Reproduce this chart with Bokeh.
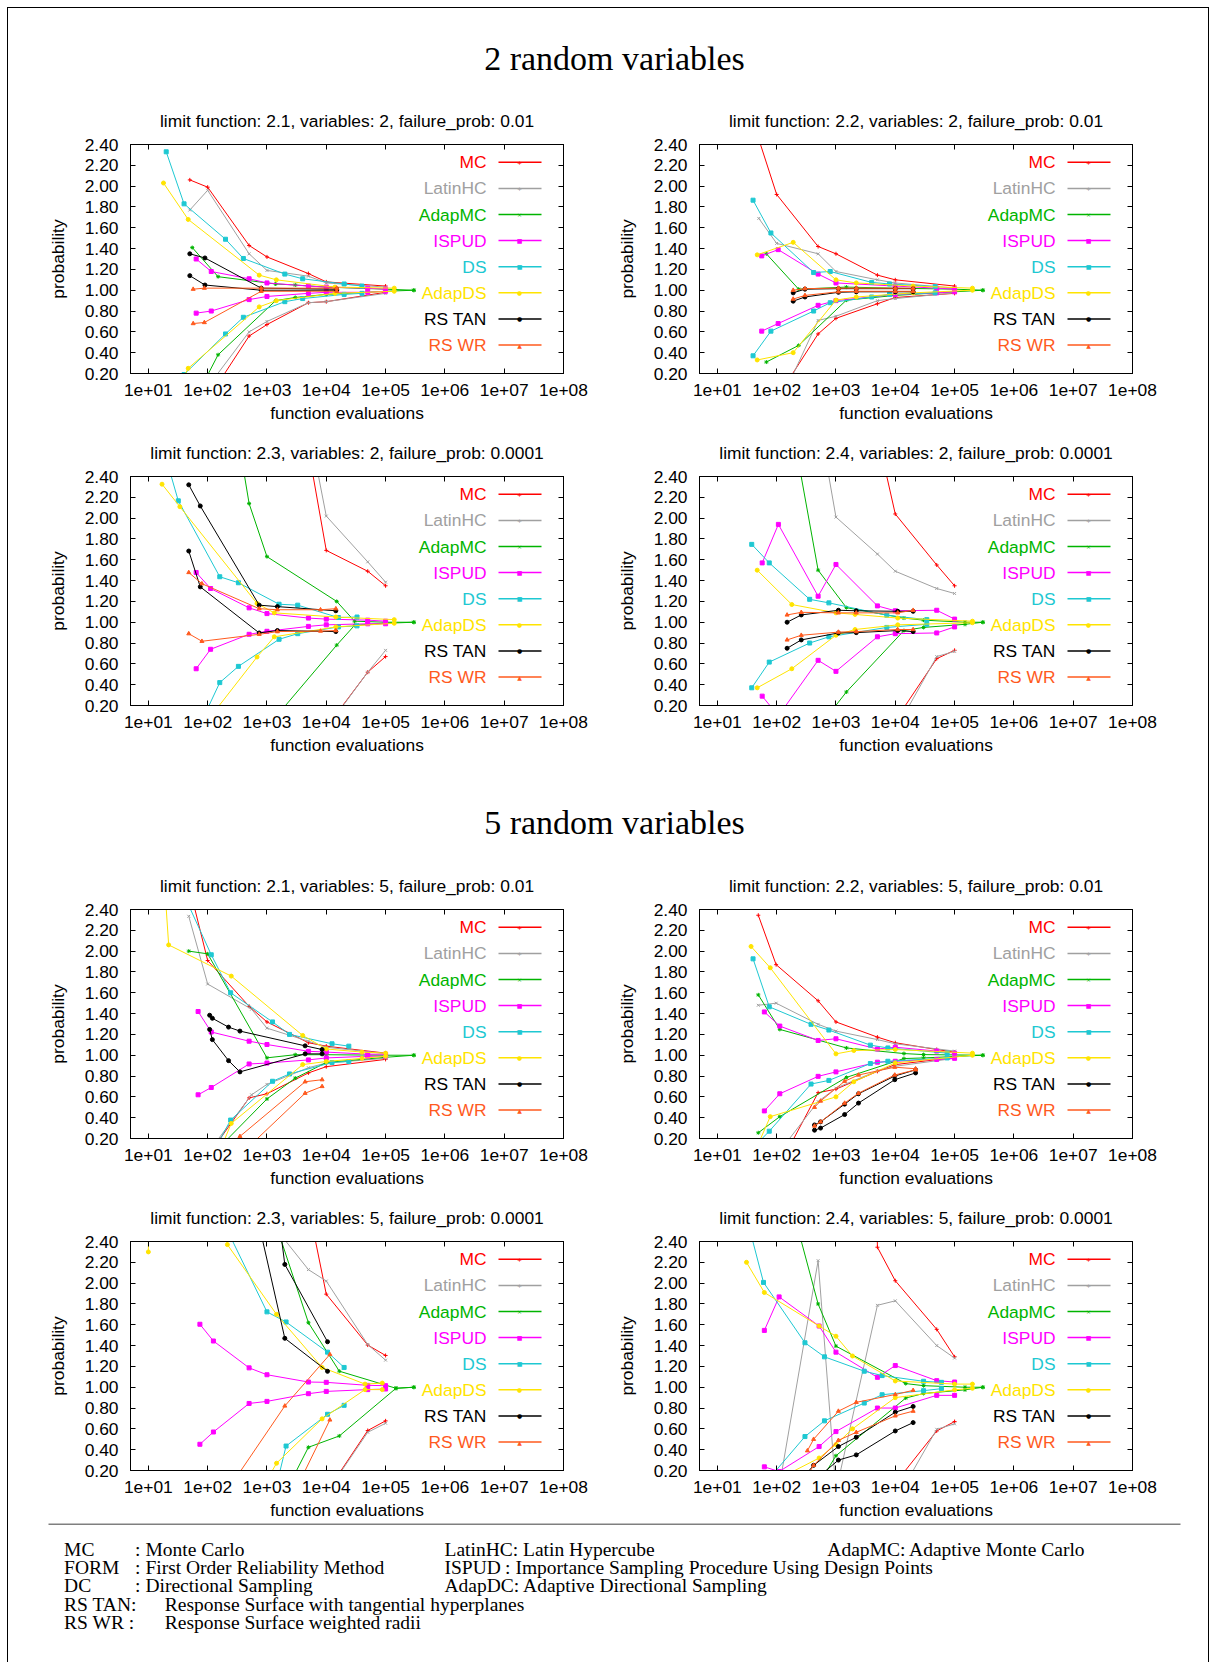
from bokeh.plotting import figure
from bokeh.models import Range1d, FixedTicker, LinearAxis, LogAxis, Label, Arrow, NumeralTickFormatter
from bokeh.layouts import column, row
from bokeh.embed import file_html
from bokeh.resources import INLINE
from bokeh.core.properties import value

# ---------------- data ----------------
METHODS = ["MC", "LatinHC", "AdapMC", "ISPUD", "DS", "AdapDS", "RS TAN", "RS WR"]
COLORS = ["#ff0000", "#a0a0a0", "#00b400", "#ff00ff", "#1ec8d2", "#ffe400", "#000000", "#ff5a1e"]
MARKERS = ["cross", "x", "asterisk", "square", "square", "circle", "circle", "triangle"]
LEGEND_MARKS = ["+", "+", "\u00d7", "\u25a0", "\u25a0", "\u25cf", "\u25cf", "\u25b2"]

X_TICKS = [1e1, 1e2, 1e3, 1e4, 1e5, 1e6, 1e7, 1e8]
X_TICK_LABELS = ["1e+01", "1e+02", "1e+03", "1e+04", "1e+05", "1e+06", "1e+07", "1e+08"]
Y_TICKS = [0.2, 0.4, 0.6, 0.8, 1.0, 1.2, 1.4, 1.6, 1.8, 2.0, 2.2, 2.4]

# each method: (function evaluations, upper curve, lower curve)
LF21_V2 = {
    "MC": ([50, 100, 500, 1000, 5000, 1e4, 1e5], [2.06, 1.99, 1.43, 1.32, 1.16, 1.08, 1.04], [-0.3, -0.05, 0.56, 0.67, 0.88, 0.89, 0.98]),
    "LatinHC": ([50, 100, 500, 1000, 5000, 1e4, 1e5], [1.77, 1.96, 1.35, 1.19, 1.135, 1.07, 1.03], [-0.3, 0.07, 0.60, 0.70, 0.88, 0.89, 0.97]),
    "AdapMC": ([55, 150, 1400, 3000, 1e4, 1e5, 3e5], [1.41, 1.13, 1.06, 1.05, 1.03, 1.01, 1.0], [-0.1, 0.38, 0.90, 0.93, 0.96, 0.99, 1.0]),
    "ISPUD": ([64, 115, 500, 1000, 5000, 1e4, 5e4, 1e5], [1.30, 1.18, 1.11, 1.07, 1.04, 1.03, 1.02, 1.01], [0.78, 0.80, 0.91, 0.94, 0.97, 0.98, 0.98, 0.99]),
    "DS": ([20, 40, 200, 400, 2000, 4000, 2e4, 4e4], [2.33, 1.83, 1.49, 1.305, 1.155, 1.11, 1.06, 1.04], [-0.3, 0.19, 0.58, 0.74, 0.89, 0.92, 0.96, 0.97]),
    "AdapDS": ([18, 47, 740, 1440, 1.4e4, 1.4e5], [2.03, 1.68, 1.145, 1.10, 1.03, 1.02], [-0.2, 0.25, 0.84, 0.90, 0.97, 0.99]),
    "RS TAN": ([50, 90, 800, 1.5e4], [1.35, 1.31, 1.02, 1.01], [1.14, 1.05, 1.0, 1.0]),
    "RS WR": ([57, 88, 800, 1.5e4], [1.01, 1.02, 1.02, 1.02], [0.68, 0.69, 0.99, 0.99]),
}
LF22_V2 = {
    "MC": ([50, 100, 500, 1000, 5000, 1e4, 1e5], [2.45, 1.92, 1.42, 1.35, 1.145, 1.10, 1.04], [-0.5, -0.04, 0.58, 0.73, 0.87, 0.93, 0.97]),
    "LatinHC": ([50, 100, 500, 1000, 5000, 1e4, 1e5], [1.69, 1.45, 1.35, 1.18, 1.10, 1.07, 1.02], [-0.6, -0.15, 0.71, 0.75, 0.90, 0.92, 0.975]),
    "AdapMC": ([67, 235, 1500, 1e4, 1e5, 3e5], [1.35, 1.01, 1.03, 1.02, 1.01, 1.0], [0.31, 0.47, 0.905, 0.95, 0.985, 1.0]),
    "ISPUD": ([56, 106, 500, 1000, 1e4, 5e4, 1e5], [1.33, 1.39, 1.155, 1.07, 1.04, 1.02, 1.01], [0.607, 0.68, 0.855, 0.90, 0.96, 0.975, 0.985]),
    "DS": ([40, 80, 420, 800, 4000, 8000, 4.7e4], [1.865, 1.55, 1.17, 1.18, 1.075, 1.06, 1.035], [0.37, 0.607, 0.80, 0.88, 0.935, 0.96, 0.975]),
    "AdapDS": ([47, 190, 1000, 2200, 2e4, 2e5], [1.34, 1.46, 1.10, 1.07, 1.04, 1.02], [0.33, 0.40, 0.905, 0.935, 0.975, 1.0]),
    "RS TAN": ([190, 300, 1100, 2200, 1e4, 2e4], [0.975, 1.01, 1.015, 1.015, 1.015, 1.015], [0.895, 0.935, 0.98, 0.985, 0.985, 0.985]),
    "RS WR": ([190, 300, 1100, 2200, 1e4, 2e4], [1.0, 1.015, 1.02, 1.02, 1.02, 1.02], [0.915, 0.95, 0.985, 0.99, 0.99, 0.99]),
}
LF23_V2 = {
    "MC": ([5000, 1e4, 5e4, 1e5], [2.66, 1.69, 1.49, 1.35], [-0.5, -0.01, 0.52, 0.67]),
    "LatinHC": ([5000, 1e4, 5e4, 1e5], [2.9, 2.02, 1.58, 1.385], [-0.6, -0.02, 0.52, 0.73]),
    "AdapMC": ([300, 500, 1000, 1.5e4, 3e4, 1e5, 3e5], [2.9, 2.14, 1.63, 1.2, 1.01, 1.0, 1.0], [-1.0, -0.5, -0.01, 0.78, 0.97, 0.99, 1.0]),
    "ISPUD": ([64, 112, 500, 1000, 5000, 1e4, 5e4, 1e5], [1.478, 1.324, 1.138, 1.083, 1.04, 1.03, 1.02, 1.01], [0.553, 0.74, 0.884, 0.913, 0.96, 0.975, 0.985, 0.985]),
    "DS": ([20, 32, 160, 330, 1600, 3300, 1.6e4, 3.3e4], [2.57, 2.166, 1.437, 1.379, 1.173, 1.164, 1.045, 1.05], [-1.0, -0.43, 0.42, 0.576, 0.836, 0.89, 0.955, 0.965]),
    "AdapDS": ([17, 34, 680, 1330, 1.45e4, 1.4e5], [2.326, 2.11, 1.18, 1.09, 1.05, 1.025], [-1.5, -0.285, 0.666, 0.86, 0.955, 0.99]),
    "RS TAN": ([48, 75, 740, 1500, 1.45e4], [2.32, 2.117, 1.164, 1.15, 1.11], [1.684, 1.34, 0.897, 0.92, 0.91]),
    "RS WR": ([48, 80, 740, 1500, 8000, 1.45e4], [1.478, 1.37, 1.13, 1.12, 1.12, 1.13], [0.89, 0.817, 0.884, 0.91, 0.915, 0.92]),
}
LF24_V2 = {
    "MC": ([5000, 1e4, 5e4, 1e5], [2.8, 2.04, 1.55, 1.35], [-0.3, 0.055, 0.65, 0.73]),
    "LatinHC": ([500, 1000, 5000, 1e4, 5e4, 1e5], [2.99, 2.01, 1.655, 1.49, 1.324, 1.276], [-1.0, -0.5, -0.3, -0.04, 0.67, 0.72]),
    "AdapMC": ([250, 500, 1500, 1.4e4, 3e4, 1.5e5, 3e5], [2.45, 1.50, 1.14, 1.04, 1.02, 1.0, 1.0], [-1.0, -0.017, 0.33, 0.92, 0.95, 0.98, 1.0]),
    "ISPUD": ([57, 107, 500, 1000, 5000, 1e4, 5e4, 1e5], [1.57, 1.94, 1.25, 1.555, 1.157, 1.11, 1.115, 1.03], [0.29, 0.10, 0.634, 0.528, 0.86, 0.89, 0.897, 0.955]),
    "DS": ([38, 75, 360, 760, 7200, 3.4e4], [1.748, 1.57, 1.22, 1.186, 1.067, 1.025], [0.37, 0.617, 0.80, 0.86, 0.95, 0.98]),
    "AdapDS": ([47, 180, 1000, 2100, 1.1e4, 2e5], [1.50, 1.17, 1.09, 1.075, 1.04, 1.01], [0.37, 0.553, 0.875, 0.93, 0.975, 0.995]),
    "RS TAN": ([150, 260, 1100, 2200, 1.1e4, 2e4], [1.0, 1.07, 1.115, 1.11, 1.105, 1.105], [0.75, 0.83, 0.897, 0.90, 0.92, 0.91]),
    "RS WR": ([150, 260, 1100, 2200, 1.1e4, 2e4], [1.07, 1.095, 1.09, 1.09, 1.09, 1.115], [0.83, 0.875, 0.905, 0.91, 0.93, 0.93]),
}
LF21_V5 = {
    "MC": ([50, 100, 500, 1000, 5000, 1e4, 1e5], [2.6, 1.91, 1.47, 1.32, 1.12, 1.087, 1.02], [-0.3, 0.03, 0.59, 0.63, 0.83, 0.89, 0.96]),
    "LatinHC": ([48, 100, 550, 1000, 5000, 1e4, 1e5], [2.335, 1.684, 1.442, 1.26, 1.135, 1.077, 1.016], [-0.3, 0.06, 0.62, 0.72, 0.88, 0.925, 0.97]),
    "AdapMC": ([48, 100, 1000, 3000, 1e4, 1e5, 3e5], [2.0, 1.974, 0.975, 1.005, 1.005, 1.0, 1.0], [-0.5, 0.0, 0.58, 0.78, 0.93, 0.98, 1.0]),
    "ISPUD": ([69, 115, 500, 1000, 5000, 1e4, 5e4, 1e5], [1.42, 1.223, 1.135, 1.103, 1.038, 1.03, 1.01, 1.01], [0.62, 0.69, 0.916, 0.925, 0.955, 0.974, 0.99, 0.99]),
    "DS": ([47, 115, 244, 1240, 2400, 1.25e4, 2.4e4], [2.45, 1.965, 1.60, 1.32, 1.20, 1.11, 1.087], [-0.5, 0.036, 0.377, 0.75, 0.82, 0.93, 0.94]),
    "AdapDS": ([18, 22, 250, 4000, 1e4, 4e4, 1e5], [2.8, 2.06, 1.76, 1.19, 1.06, 1.03, 1.02], [-1.5, -1.1, 0.345, 0.91, 0.94, 0.97, 0.99]),
    "RS TAN": ([108, 120, 225, 350, 4400, 8500], [1.384, 1.355, 1.27, 1.232, 1.09, 1.055], [1.248, 1.15, 0.948, 0.84, 1.013, 1.013]),
    "RS WR": ([350, 4400, 8500], [0.22, 0.745, 0.765], [0.04, 0.635, 0.70]),
}
LF22_V5 = {
    "MC": ([49, 98, 500, 1000, 5000, 1e4, 5e4, 1e5], [2.345, 1.87, 1.523, 1.32, 1.174, 1.12, 1.055, 1.03], [-0.6, -0.12, 0.64, 0.674, 0.845, 0.91, 0.958, 0.974]),
    "LatinHC": ([49, 98, 500, 1000, 5000, 1e4, 1e5], [1.48, 1.50, 1.297, 1.232, 1.15, 1.11, 1.04], [-0.6, 0.033, 0.555, 0.684, 0.85, 0.894, 0.97]),
    "AdapMC": ([49, 113, 1500, 1.4e4, 3e4, 3e5], [1.58, 1.248, 1.07, 1.016, 1.006, 1.0], [0.255, 0.41, 0.787, 0.968, 0.974, 1.0]),
    "ISPUD": ([62, 113, 500, 1000, 5000, 1e4, 5e4, 1e5], [1.416, 1.28, 1.142, 1.158, 1.06, 1.077, 1.04, 1.02], [0.465, 0.63, 0.797, 0.84, 0.933, 0.942, 0.96, 0.97]),
    "DS": ([40, 75, 380, 760, 3800, 7500, 7.5e4], [1.926, 1.465, 1.297, 1.242, 1.097, 1.07, 1.02], [0.11, 0.27, 0.723, 0.758, 0.92, 0.942, 0.974]),
    "AdapDS": ([37, 78, 1000, 2000, 1e4, 2e5], [2.045, 1.84, 1.013, 1.045, 1.055, 1.02], [-0.01, 0.41, 0.60, 0.745, 0.926, 1.0]),
    "RS TAN": ([435, 550, 1400, 2400, 9800, 2.2e4], [0.33, 0.36, 0.53, 0.63, 0.80, 0.86], [0.28, 0.30, 0.43, 0.54, 0.765, 0.83]),
    "RS WR": ([435, 550, 1400, 2400, 9800, 2.2e4], [0.50, 0.56, 0.75, 0.81, 0.885, 0.87], [0.32, 0.36, 0.54, 0.635, 0.81, 0.86]),
}
LF23_V5 = {
    "MC": ([5000, 1e4, 5e4, 1e5], [2.74, 1.894, 1.405, 1.305], [-0.5, -0.013, 0.584, 0.677]),
    "LatinHC": ([1000, 5000, 1e4, 5e4, 1e5], [2.63, 2.13, 2.02, 1.41, 1.26], [-1.0, -0.6, -0.02, 0.567, 0.654]),
    "AdapMC": ([1500, 5000, 1.66e4, 1.5e5, 3e5], [2.52, 1.62, 1.154, 0.99, 1.0], [-0.16, 0.423, 0.532, 0.99, 1.0]),
    "ISPUD": ([74, 125, 500, 1000, 5000, 1e4, 5e4, 1e5], [1.605, 1.444, 1.186, 1.12, 1.05, 1.047, 1.018, 1.015], [0.452, 0.57, 0.844, 0.864, 0.938, 0.96, 0.977, 0.983]),
    "DS": ([250, 1000, 2100, 1.05e4, 2e4], [2.43, 1.724, 1.627, 1.337, 1.19], [-1.0, -0.32, 0.435, 0.74, 0.826]),
    "AdapDS": ([10, 12, 215, 1450, 8500, 4.5e4, 8.8e4], [2.30, 8.0, 2.37, 1.70, 1.19, 1.03, 1.04], [-1.0, -1.0, -0.56, 0.27, 0.696, 0.977, 0.977]),
    "RS TAN": ([800, 2000, 1.05e4], [3.94, 2.18, 1.437], [2.47, 1.47, 1.153]),
    "RS WR": ([100, 2000, 1.15e4], [-0.27, 0.82, 1.315], [-1.5, -0.2, 0.686]),
}
LF24_V5 = {
    "MC": ([4500, 5000, 1e4, 5e4, 1e5], [4.0, 2.345, 2.023, 1.556, 1.292], [-1.0, -0.5, 0.078, 0.58, 0.67]),
    "LatinHC": ([100, 500, 1000, 5000, 1e4, 5e4, 1e5], [-0.1, 2.216, 0.0, 1.787, 1.83, 1.40, 1.28], [-1.0, -1.0, -1.0, -0.5, -0.1, 0.596, 0.648]),
    "AdapMC": ([250, 500, 1000, 1.5e4, 3e4, 1.5e5, 3e5], [2.44, 1.80, 1.395, 1.035, 1.015, 1.0, 1.0], [-0.5, 0.058, 0.342, 0.896, 0.94, 0.975, 1.0]),
    "ISPUD": ([62, 110, 520, 1000, 5000, 1e4, 5e4, 1e5], [1.546, 1.868, 1.588, 1.337, 1.095, 1.208, 1.063, 1.05], [0.235, 0.19, 0.43, 0.574, 0.80, 0.80, 0.922, 0.922]),
    "DS": ([35, 60, 300, 640, 3000, 6000, 3e4, 6e4], [2.52, 2.007, 1.427, 1.292, 1.154, 1.112, 1.057, 1.047], [-0.5, 0.06, 0.526, 0.677, 0.848, 0.928, 0.967, 0.986]),
    "AdapDS": ([31, 62, 520, 1000, 1900, 1e4, 1e5, 2e5], [2.20, 1.91, 1.588, 1.49, 1.30, 1.06, 1.03, 1.03], [-0.3, 0.05, 0.32, 0.45, 0.60, 0.90, 0.975, 0.99]),
    "RS TAN": ([330, 420, 1100, 2200, 1e4, 2e4], [0.18, 0.25, 0.43, 0.52, 0.76, 0.815], [-0.1, 0.10, 0.30, 0.35, 0.58, 0.66]),
    "RS WR": ([330, 420, 1100, 2200, 1e4, 2e4], [0.39, 0.50, 0.77, 0.855, 0.93, 0.97], [0.15, 0.25, 0.49, 0.567, 0.725, 0.77]),
}

TITLES_V2 = ["limit function: 2.1, variables: 2, failure_prob: 0.01",
             "limit function: 2.2, variables: 2, failure_prob: 0.01",
             "limit function: 2.3, variables: 2, failure_prob: 0.0001",
             "limit function: 2.4, variables: 2, failure_prob: 0.0001"]
TITLES_V5 = ["limit function: 2.1, variables: 5, failure_prob: 0.01",
             "limit function: 2.2, variables: 5, failure_prob: 0.01",
             "limit function: 2.3, variables: 5, failure_prob: 0.0001",
             "limit function: 2.4, variables: 5, failure_prob: 0.0001"]
SECTION_TITLES = ["2 random variables", "5 random variables"]

FOOTER_LABELS = ["MC", "FORM", "DC", "RS TAN:", "RS WR :"]
FOOTER_DESCR = [": Monte Carlo", ": First Order Reliability Method", ": Directional Sampling",
                "Response Surface with tangential hyperplanes", "Response Surface weighted radii"]
FOOTER_COL2 = ["LatinHC: Latin Hypercube", "ISPUD", "AdapDC: Adaptive Directional Sampling"]
FOOTER_COL2B = ": Importance Sampling Procedure Using Design Points"
FOOTER_COL3 = "AdapMC: Adaptive Monte Carlo"

# ---------------- style ----------------
SANS = "Liberation Sans"
SERIF = "Liberation Serif"
FS = "17.4px"
FRAME_W = 433
FRAME_H = 229
TOP_B = 50


def style_axis(ax, labels=True):
    ax.axis_line_color = "black"
    ax.axis_line_width = 1
    ax.major_tick_in = 5
    ax.major_tick_out = 0
    ax.minor_tick_in = 0
    ax.minor_tick_out = 0
    ax.major_tick_line_color = "black"
    ax.major_label_text_font = SANS
    ax.major_label_text_color = "black"
    if labels:
        ax.major_label_text_font_size = FS
    else:
        ax.major_label_text_font_size = "1px"
        ax.major_label_text_alpha = 0
        ax.major_label_standoff = 0
    ax.axis_label_text_font = SANS
    ax.axis_label_text_font_size = FS
    ax.axis_label_text_font_style = "normal"
    ax.axis_label_text_color = "black"


def make_panel(title, data, left, height):
    mbl = 122 if left else 91
    p = figure(width=600, height=height, x_axis_type="log",
               x_range=Range1d(5, 1e8), y_range=Range1d(0.2, 2.4),
               min_border_left=mbl, min_border_right=600 - mbl - FRAME_W,
               min_border_top=TOP_B, min_border_bottom=height - TOP_B - FRAME_H,
               toolbar_location=None, output_backend="svg", title=title)
    p.grid.visible = False
    p.outline_line_color = "black"
    p.outline_line_width = 1
    p.background_fill_color = "white"
    p.border_fill_color = "white"
    t = p.title
    t.align = "center"
    t.text_font = SANS
    t.text_font_size = FS
    t.text_font_style = "normal"
    t.text_color = "black"
    t.standoff = 27

    labels = {x: l for x, l in zip(X_TICKS, X_TICK_LABELS)}
    xa = p.xaxis[0]
    xa.ticker = FixedTicker(ticks=X_TICKS)
    xa.major_label_overrides = labels
    xa.axis_label = "function evaluations"
    style_axis(xa)
    xa.major_label_standoff = 10
    xa.axis_label_standoff = 4

    ya = p.yaxis[0]
    ya.ticker = FixedTicker(ticks=Y_TICKS)
    ya.formatter = NumeralTickFormatter(format="0.00")
    ya.axis_label = "probability"
    style_axis(ya)
    ya.major_label_standoff = 12
    ya.axis_label_standoff = 14

    top = LogAxis(ticker=FixedTicker(ticks=X_TICKS))
    style_axis(top, labels=False)
    p.add_layout(top, "above")
    right = LinearAxis(ticker=FixedTicker(ticks=Y_TICKS))
    style_axis(right, labels=False)
    p.add_layout(right, "right")

    for m, c, mk in zip(METHODS, COLORS, MARKERS):
        xs, hi, lo = data[m]
        for ys in (hi, lo):
            p.line(xs, ys, line_color=c, line_width=1)
            p.scatter(xs, ys, marker=mk, size=4, line_color=c, fill_color=c, line_width=1)

    # legend (text left, sample right, as in gnuplot)
    for i, (m, c, mch) in enumerate(zip(METHODS, COLORS, LEGEND_MARKS)):
        yy = FRAME_H - 17.8 - 26.1 * i
        p.add_layout(Label(x=FRAME_W - 77, y=yy, x_units="screen", y_units="screen", text=m,
                           text_align="right", text_baseline="middle", text_color=c,
                           text_font=SANS, text_font_size=FS))
        p.add_layout(Arrow(x_start=FRAME_W - 65, y_start=yy, x_end=FRAME_W - 22, y_end=yy,
                           start_units="screen", end_units="screen", start=None, end=None,
                           line_color=c, line_width=1.5))
        p.add_layout(Label(x=FRAME_W - 44, y=yy, x_units="screen", y_units="screen", text=mch,
                           text_align="center", text_baseline="middle", text_color=c,
                           text_font="DejaVu Sans", text_font_size="6px"))
    return p


def blank(h):
    p = figure(width=1200, height=h, x_range=Range1d(0, 1200), y_range=Range1d(h, 0),
               x_axis_location=None, y_axis_location=None, min_border=0,
               toolbar_location=None, output_backend="svg")
    p.grid.visible = False
    p.outline_line_color = None
    p.background_fill_color = "white"
    p.border_fill_color = "white"
    return p


def header(text, h, yc):
    p = blank(h)
    p.text(x=[606], y=[yc], text=[text], text_align="center", text_baseline="middle",
           text_font=value(SERIF), text_font_size="34px", text_color="black")
    return p


def footer(h):
    p = blank(h)
    p.segment(x0=[40], y0=[0.5], x1=[1172], y1=[0.5], line_color="black", line_width=1)
    ys = [25.7, 43.7, 61.7, 80.8, 98.8]
    common = dict(text_baseline="middle", text_font=value(SERIF), text_font_size="19.5px", text_color="black")
    p.text(x=[55.6] * 5, y=ys, text=FOOTER_LABELS, **common)
    p.text(x=[126.6, 126.6, 126.6, 156.3, 156.3], y=ys, text=FOOTER_DESCR, **common)
    p.text(x=[436, 436, 436], y=ys[:3], text=FOOTER_COL2, **common)
    p.text(x=[496.6], y=[ys[1]], text=[FOOTER_COL2B], **common)
    p.text(x=[818.8], y=[ys[0]], text=[FOOTER_COL3], **common)
    return p


H_ROW = 332

rows = [
    header(SECTION_TITLES[0], 86, 50.3),
    row(make_panel(TITLES_V2[0], LF21_V2, True, H_ROW), make_panel(TITLES_V2[1], LF22_V2, False, H_ROW)),
    row(make_panel(TITLES_V2[2], LF23_V2, True, H_ROW), make_panel(TITLES_V2[3], LF24_V2, False, H_ROW)),
    header(SECTION_TITLES[1], 101, 63.5),
    row(make_panel(TITLES_V5[0], LF21_V5, True, H_ROW), make_panel(TITLES_V5[1], LF22_V5, False, H_ROW)),
    row(make_panel(TITLES_V5[2], LF23_V5, True, H_ROW), make_panel(TITLES_V5[3], LF24_V5, False, H_ROW)),
    footer(139),
]

root = column(*rows, margin=(7, 0, 0, 7),
              styles={"border-left": "1px solid black", "border-top": "1px solid black",
                      "border-right": "1px solid black"})

open("out.html", "w").write(file_html(root, INLINE))
